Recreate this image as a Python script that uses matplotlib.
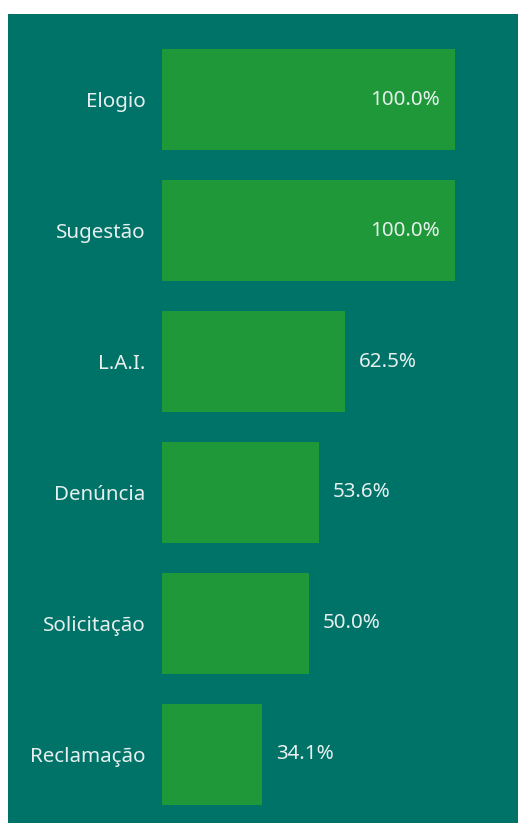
import matplotlib
matplotlib.use("Agg")
import matplotlib.pyplot as plt

categories = ["Elogio", "Sugestão", "L.A.I.", "Denúncia", "Solicitação", "Reclamação"]
values = [100.0, 100.0, 62.5, 53.6, 50.0, 34.1]

bg = "#007369"
bar_color = "#1e9839"
txt = "#e6efed"
plt.rcParams['font.family'] = ['Noto Sans', 'DejaVu Sans']

W, H = 524, 823
fig = plt.figure(figsize=(W / 100, H / 100), dpi=100)
fig.patch.set_facecolor("white")

# teal panel behind the chart
back = fig.add_axes([8 / W, 0, 510 / W, (H - 14) / H], zorder=0)
back.set_axis_off()
back.add_artist(plt.Rectangle((0, 0), 1, 1, transform=back.transAxes, color=bg))

ax = fig.add_axes([162 / W, (H - 805) / H, 356 / W, 756 / H], zorder=1)
ax.set_facecolor("none")
y = list(range(len(categories)))
bh = 0.771
ax.barh(y, values, height=bh, color=bar_color)
ax.set_xlim(0, 100 * 356 / 293)
ax.set_ylim(len(categories) - 1 + bh / 2, -bh / 2)
ax.set_yticks(y)
ax.set_yticklabels(categories, color=txt, fontsize=14.8)
ax.tick_params(axis="y", length=0, pad=12)
ax.set_xticks([])
for s in ax.spines.values():
    s.set_visible(False)

for yi, v in zip(y, values):
    lab = f"{v:.1f}%"
    if v >= 90:
        ax.annotate(lab, (v, yi), xytext=(-11, 0), textcoords="offset points",
                    ha="right", va="center", color=txt, fontsize=14.8)
    else:
        ax.annotate(lab, (v, yi), xytext=(10, 0), textcoords="offset points",
                    ha="left", va="center", color=txt, fontsize=14.8)

fig.savefig("out.png", dpi=100, facecolor=fig.get_facecolor())
